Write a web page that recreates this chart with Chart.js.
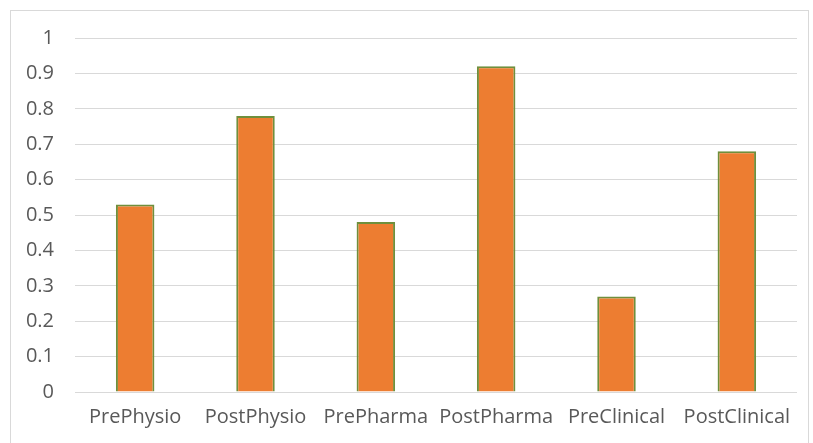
<!DOCTYPE html>
<html>
<head>
<meta charset="utf-8">
<script src="https://cdn.jsdelivr.net/npm/chart.js@4/dist/chart.umd.min.js"></script>
<style>
  html, body { margin: 0; padding: 0; background: #fff; }
  #wrap { position: relative; width: 813px; height: 443px; }
  #frame { position: absolute; left: 10px; top: 10px; width: 799px; height: 440px;
           border: 1px solid #d9d9d9; box-sizing: border-box; }
  canvas { position: absolute; left: 0; top: 0; }
</style>
</head>
<body>
<div id="wrap">
  <div id="frame"></div>
  <canvas id="c" width="813" height="443"></canvas>
</div>
<script>
const categories = ['PrePhysio', 'PostPhysio', 'PrePharma', 'PostPharma', 'PreClinical', 'PostClinical'];
const values = [0.53, 0.78, 0.48, 0.92, 0.27, 0.68];
const yTicks = [0, 0.1, 0.2, 0.3, 0.4, 0.5, 0.6, 0.7, 0.8, 0.9, 1];

const font = { family: '"Open Sans", sans-serif', size: 20 };

new Chart(document.getElementById('c'), {
  type: 'bar',
  data: {
    labels: categories,
    datasets: [{
      data: values,
      backgroundColor: '#ED7D31',
      borderColor: '#6F8F3C',
      borderWidth: 2,
      categoryPercentage: 1,
      barPercentage: 0.32
    }]
  },
  options: {
    responsive: false,
    animation: false,
    layout: { padding: { top: 38, right: 16, bottom: 0, left: 0 } },
    plugins: { legend: { display: false }, tooltip: { enabled: false } },
    scales: {
      x: {
        grid: { display: false },
        border: { display: false },
        ticks: { color: '#595959', font, padding: 5, maxRotation: 0, autoSkip: false },
        afterFit: s => { s.height = 51; }
      },
      y: {
        min: 0, max: 1,
        afterBuildTicks: s => { s.ticks = yTicks.map(v => ({ value: v })); },
        grid: { color: '#d9d9d9', drawTicks: false },
        border: { display: false },
        ticks: { color: '#595959', font, padding: 21, callback: v => String(v) },
        afterFit: s => { s.width = 75; }
      }
    }
  }
});
</script>
</body>
</html>
